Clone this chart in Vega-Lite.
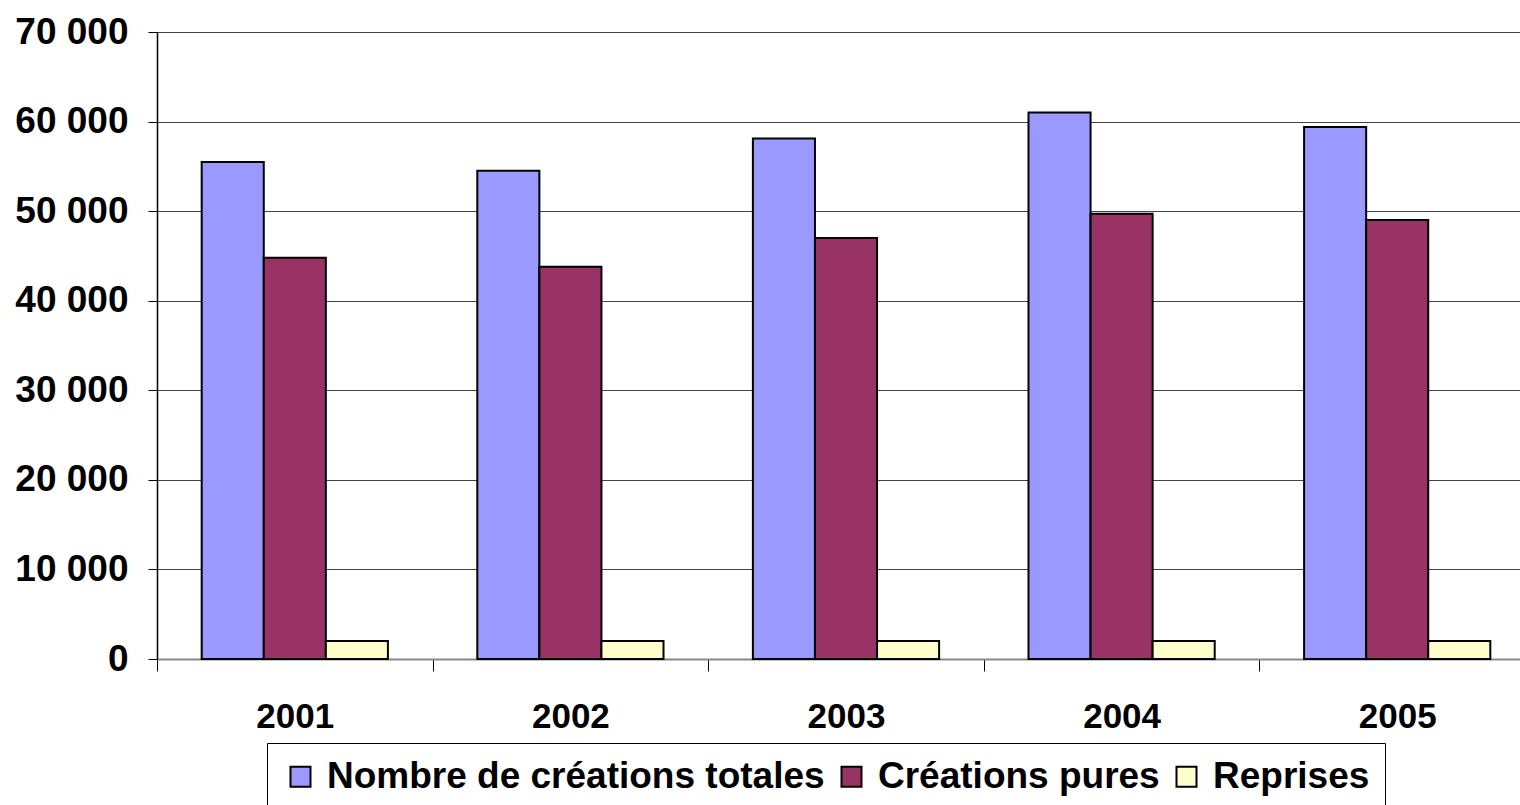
{
  "$schema": "https://vega.github.io/schema/vega-lite/v6.json",
  "autosize": {"type": "none"},
  "padding": {"left": 157, "top": 32, "right": 0, "bottom": 146},
  "width": 1363,
  "height": 627,
  "background": "white",
  "config": {
    "view": {"stroke": null},
    "font": "Liberation Sans"
  },
  "data": {
    "values": [
      {"annee": "2001", "serie": "Nombre de créations totales", "valeur": 55500},
      {"annee": "2001", "serie": "Créations pures", "valeur": 44800},
      {"annee": "2001", "serie": "Reprises", "valeur": 2000},
      {"annee": "2002", "serie": "Nombre de créations totales", "valeur": 54500},
      {"annee": "2002", "serie": "Créations pures", "valeur": 43800},
      {"annee": "2002", "serie": "Reprises", "valeur": 2000},
      {"annee": "2003", "serie": "Nombre de créations totales", "valeur": 58100},
      {"annee": "2003", "serie": "Créations pures", "valeur": 47000},
      {"annee": "2003", "serie": "Reprises", "valeur": 2000},
      {"annee": "2004", "serie": "Nombre de créations totales", "valeur": 61000},
      {"annee": "2004", "serie": "Créations pures", "valeur": 49700},
      {"annee": "2004", "serie": "Reprises", "valeur": 2000},
      {"annee": "2005", "serie": "Nombre de créations totales", "valeur": 59400},
      {"annee": "2005", "serie": "Créations pures", "valeur": 49000},
      {"annee": "2005", "serie": "Reprises", "valeur": 2000}
    ]
  },
  "mark": {"type": "bar", "stroke": "black", "strokeWidth": 2},
  "encoding": {
    "x": {
      "field": "annee",
      "type": "nominal",
      "scale": {"range": [0, 1378], "paddingInner": 0, "paddingOuter": 0},
      "axis": {
        "title": null,
        "labelAngle": 0,
        "labelFont": "Liberation Sans",
        "labelFontWeight": "bold",
        "labelFontSize": 35,
        "labelColor": "black",
        "labelPadding": 28,
        "tickBand": "extent",
        "tickColor": "black",
        "tickSize": 12,
        "domainColor": "#888888",
        "domainWidth": 2,
        "grid": false
      }
    },
    "xOffset": {
      "field": "serie",
      "type": "nominal",
      "sort": ["Nombre de créations totales", "Créations pures", "Reprises"],
      "scale": {"paddingInner": 0, "paddingOuter": 0.72}
    },
    "y": {
      "field": "valeur",
      "type": "quantitative",
      "scale": {"domain": [0, 70000], "nice": false},
      "axis": {
        "title": null,
        "values": [0, 10000, 20000, 30000, 40000, 50000, 60000, 70000],
        "labelExpr": "replace(format(datum.value, ','), /,/g, ' ')",
        "labelFont": "Liberation Sans",
        "labelFontWeight": "bold",
        "labelFontSize": 37,
        "labelColor": "black",
        "labelPadding": 20,
        "tickColor": "black",
        "tickSize": 9,
        "domainColor": "black",
        "domainWidth": 1.5,
        "gridColor": "#444444",
        "gridWidth": 1
      }
    },
    "color": {
      "field": "serie",
      "type": "nominal",
      "sort": ["Nombre de créations totales", "Créations pures", "Reprises"],
      "scale": {
        "domain": ["Nombre de créations totales", "Créations pures", "Reprises"],
        "range": ["#9999FF", "#993366", "#FFFFCC"]
      },
      "legend": {
        "title": null,
        "orient": "none",
        "legendX": 110,
        "legendY": 711,
        "direction": "horizontal",
        "strokeColor": "black",
        "padding": 15,
        "symbolType": "square",
        "symbolSize": 400,
        "symbolStrokeColor": "black",
        "symbolStrokeWidth": 2,
        "labelFont": "Liberation Sans",
        "labelFontWeight": "bold",
        "labelFontSize": 37,
        "labelColor": "black",
        "labelOffset": 8,
        "columnPadding": 8,
        "labelLimit": 0
      }
    }
  }
}
